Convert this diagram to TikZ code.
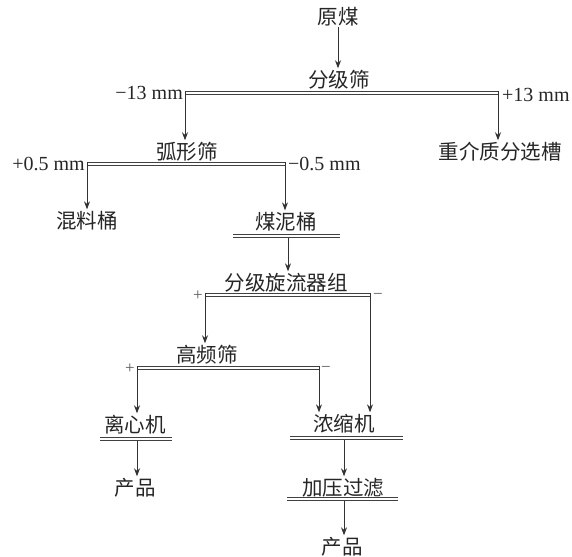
\documentclass[tikz,border=0pt]{standalone}
\usepackage{fontspec}
\setmainfont{Liberation Serif}
\newfontfamily\cjk{Noto Sans CJK SC}
\usetikzlibrary{arrows.meta}
\begin{document}
\begin{tikzpicture}[x=1pt,y=-1pt,
  lbl/.style={inner sep=0pt, font=\cjk\fontsize{20.5}{24}\selectfont, text=black!85},
  mm/.style={inner sep=0pt, font=\fontsize{20}{24}\selectfont, text=black!85},
  sgn/.style={inner sep=0pt, font=\fontsize{17}{20}\selectfont, text=black!65},
  dbl/.style={draw=black!75, line width=0.9pt, double=white, double distance=2.6pt},
  arr/.style={draw=black!80, line width=0.9pt, shorten >=2pt, -{Stealth[length=8pt,width=6pt]}}]
\useasboundingbox (0,0) rectangle (572,556);
% text nodes
\node[lbl] (ym)  at (338,17)  {原煤};
\node[lbl] (fjs) at (339,80)  {分级筛};
\node[mm,anchor=east] (m13) at (183,93) {−13 mm};
\node[mm,anchor=west] (p13) at (502,95) {+13 mm};
\node[lbl] (hxs) at (187,152) {弧形筛};
\node[lbl] (zjz) at (500,152) {重介质分选槽};
\node[mm,anchor=east] (p05) at (85,164) {+0.5 mm};
\node[mm,anchor=west] (m05) at (288,164) {−0.5 mm};
\node[lbl] (hlt) at (87,221)  {混料桶};
\node[lbl] (mnt) at (286,222) {煤泥桶};
\node[lbl] (fjx) at (286,283) {分级旋流器组};
\node[sgn] (pl1) at (198,296) {+};
\node[sgn] (mi1) at (378,296) {−};
\node[lbl] (gps) at (207,355) {高频筛};
\node[sgn] (pl2) at (130,369) {+};
\node[sgn] (mi2) at (326,369) {−};
\node[lbl] (lxj) at (135,425) {离心机};
\node[lbl] (nsj) at (344,424) {浓缩机};
\node[lbl] (cp1) at (135,488) {产品};
\node[lbl] (jyg) at (343,488) {加压过滤};
\node[lbl] (cp2) at (342,547) {产品};
% screens and underlines
\coordinate (s1L) at (185,93);  \coordinate (s1R) at (498,93);
\coordinate (s2L) at (87,164);  \coordinate (s2R) at (285,164);
\coordinate (u1L) at (233,236); \coordinate (u1R) at (340,236);
\coordinate (s3L) at (205,295); \coordinate (s3R) at (370,295);
\coordinate (s4L) at (137,368); \coordinate (s4R) at (319,368);
\coordinate (u2L) at (100,439); \coordinate (u2R) at (172,439);
\coordinate (u3L) at (290,438); \coordinate (u3R) at (403,438);
\coordinate (u4L) at (287,499); \coordinate (u4R) at (398,499);
\draw[dbl] (s1L) -- (s1R);
\draw[dbl] (s2L) -- (s2R);
\draw[dbl] (u1L) -- (u1R);
\draw[dbl] (s3L) -- (s3R);
\draw[dbl] (s4L) -- (s4R);
\draw[dbl] (u2L) -- (u2R);
\draw[dbl] (u3L) -- (u3R);
\draw[dbl] (u4L) -- (u4R);
% drop points from underlines
\coordinate (d1) at (288,238);
\coordinate (d2) at (137,441);
\coordinate (d3) at (344,440);
\coordinate (d4) at (344,501);
% connectors
\draw[arr] (ym.south) -- (ym.south |- fjs.north);
\draw[arr] ([yshift=1.8pt]s1L) -- (s1L |- hxs.north);
\draw[arr] ([yshift=1.8pt]s1R) -- (s1R |- zjz.north);
\draw[arr] ([yshift=1.8pt]s2L) -- (s2L |- hlt.north);
\draw[arr] ([yshift=1.8pt]s2R) -- (s2R |- mnt.north);
\draw[arr] (d1) -- (d1 |- fjx.north);
\draw[arr] ([yshift=1.8pt]s3L) -- (s3L |- gps.north);
\draw[arr] ([yshift=1.8pt]s3R) -- (s3R |- nsj.north);
\draw[arr] ([yshift=1.8pt]s4L) -- (s4L |- lxj.north);
\draw[arr] ([yshift=1.8pt]s4R) -- (s4R |- nsj.north);
\draw[arr] (d2) -- (d2 |- cp1.north);
\draw[arr] (d3) -- (d3 |- jyg.north);
\draw[arr] (d4) -- (d4 |- cp2.north);
\end{tikzpicture}
\end{document}
